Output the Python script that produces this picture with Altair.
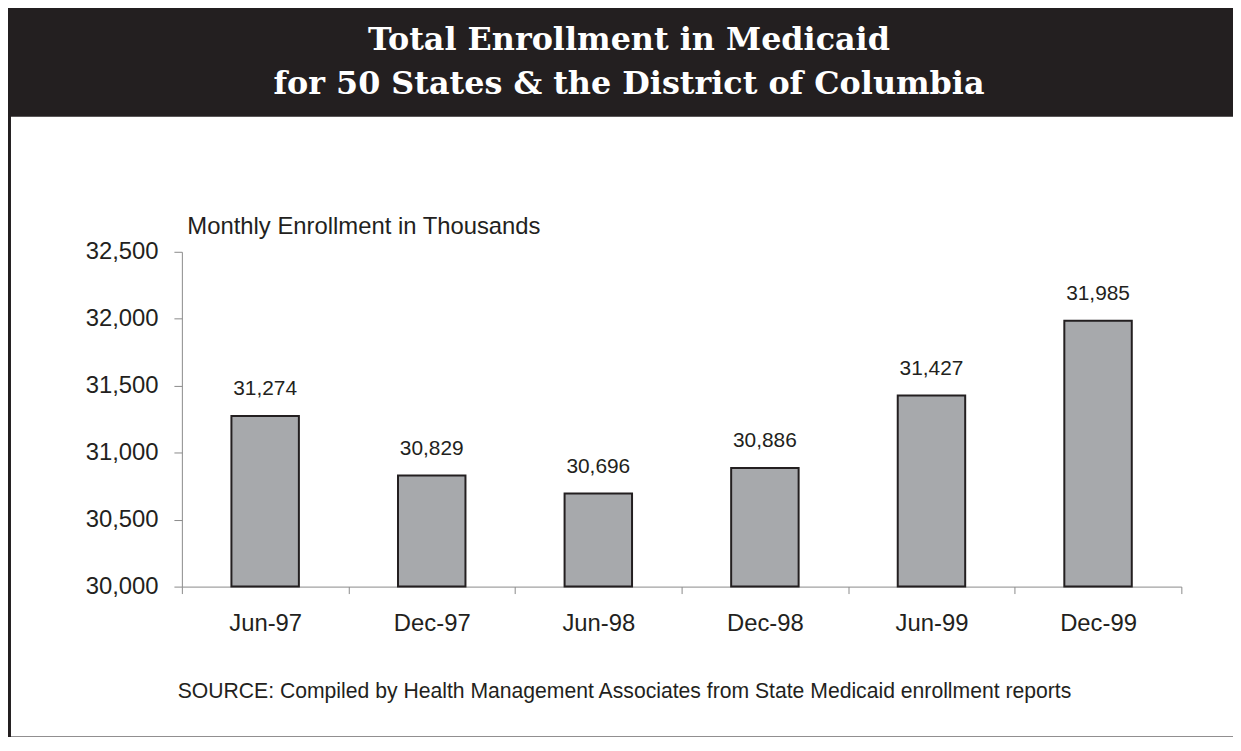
import altair as alt
import pandas as pd

# ---- data ----
periods = ["Jun-97", "Dec-97", "Jun-98", "Dec-98", "Jun-99", "Dec-99"]
enrollment = [31274, 30829, 30696, 30886, 31427, 31985]
y_ticks = [30000, 30500, 31000, 31500, 32000, 32500]
y_domain = [30000, 32500]
title_lines = ["Total Enrollment in Medicaid", "for 50 States & the District of Columbia"]
y_title = "Monthly Enrollment in Thousands"
source_note = "SOURCE: Compiled by Health Management Associates from State Medicaid enrollment reports"

DARK = "#231f20"
GRAY_AXIS = "#8a8a8a"
BAR_FILL = "#a7a9ac"
SANS = "Liberation Sans, Arial, Helvetica, sans-serif"

VIEW_W, VIEW_H = 1232, 624
PLOT_X0, PLOT_X1 = 172, 1178   # plot band inside the white panel
PLOT_Y0, PLOT_Y1 = 473, 136    # 30,000 baseline and 32,500 top

df = pd.DataFrame({"period": periods, "enrollment": enrollment})

x_enc = alt.X(
    "period:N",
    sort=periods,
    scale=alt.Scale(paddingInner=0, paddingOuter=0, range=[PLOT_X0, PLOT_X1]),
    axis=alt.Axis(
        title=source_note,
        offset=-(VIEW_H - PLOT_Y0),
        labelAngle=0,
        labelFont=SANS,
        labelFontSize=24,
        labelColor=DARK,
        labelPadding=18,
        tickBand="extent",
        tickSize=7,
        tickColor=GRAY_AXIS,
        domainColor=GRAY_AXIS,
        titleFont=SANS,
        titleFontSize=21.3,
        titleFontWeight="normal",
        titleColor=DARK,
        titleX=617,
        titleY=112,
        titleAlign="center",
        titleBaseline="alphabetic",
    ),
)

y_enc = alt.Y(
    "enrollment:Q",
    scale=alt.Scale(domain=y_domain, zero=False, nice=False, range=[PLOT_Y0, PLOT_Y1]),
    axis=alt.Axis(
        values=y_ticks,
        format=",d",
        grid=False,
        offset=-PLOT_X0,
        title=y_title,
        titleAngle=0,
        titleX=5,
        titleY=118,
        titleAlign="left",
        titleBaseline="alphabetic",
        titleFont=SANS,
        titleFontSize=24,
        titleFontWeight="normal",
        titleColor=DARK,
        labelFont=SANS,
        labelFontSize=24,
        labelColor=DARK,
        labelPadding=16,
        tickSize=8,
        tickColor=GRAY_AXIS,
        domainColor=GRAY_AXIS,
    ),
)

bars = alt.Chart(df).mark_bar(
    width=alt.RelativeBandSize(0.405),
    fill=BAR_FILL,
    stroke=DARK,
    strokeWidth=2,
).encode(x=x_enc, y=y_enc, y2=alt.datum(y_domain[0]))

labels = alt.Chart(df).mark_text(
    dy=-21,
    baseline="alphabetic",
    font=SANS,
    fontSize=21,
    color=DARK,
).encode(
    x=alt.X("period:N", sort=periods),
    y=alt.Y("enrollment:Q"),
    text=alt.Text("enrollment:Q", format=",d"),
)

chart = alt.layer(bars, labels).properties(
    width=VIEW_W,
    height=VIEW_H,
    autosize=alt.AutoSizeParams(type="none"),
    padding={"left": 3, "top": 107, "right": -2, "bottom": -2},
    background=DARK,
    title=alt.TitleParams(
        text=title_lines,
        font="DejaVu Serif",
        fontSize=32,
        fontWeight="bold",
        color="white",
        anchor="middle",
        baseline="alphabetic",
        lineHeight=44,
        offset=-9,
        dx=6,
    ),
).configure_view(fill="white", stroke=None)

chart.save("out.html", embed_options={"renderer": "svg", "actions": False})
